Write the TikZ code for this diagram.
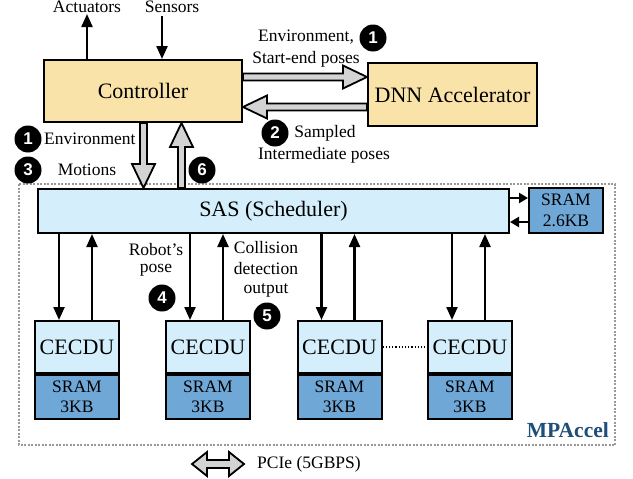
\documentclass[tikz,border=0pt]{standalone}
\usepackage{fontspec}
\setmainfont{Liberation Serif}
\newfontfamily\badgefont{Liberation Sans}
\usetikzlibrary{arrows.meta,calc}

\definecolor{ctrlfill}{HTML}{F9E3A9}
\definecolor{unitfill}{HTML}{D4EEFB}
\definecolor{sramfill}{HTML}{6FA7D7}
\definecolor{fatfill}{HTML}{D3D3D3}
\definecolor{mpblue}{HTML}{1F4E79}
\definecolor{framegray}{HTML}{999999}

\newcommand\bigtxt{\fontsize{22}{24}\selectfont}
\newcommand\smtxt{\fontsize{17.5}{20.5}\selectfont}

\tikzset{
  x=1pt, y=-1pt,
  box/.style={draw, line width=2pt, inner sep=0pt, align=center},
  ctrlbox/.style={box, fill=ctrlfill, font=\bigtxt},
  unitbox/.style={box, fill=unitfill, font=\bigtxt},
  srambox/.style={box, fill=sramfill, font=\smtxt},
  lbl/.style={inner sep=0pt, align=center, font=\smtxt},
  badge/.style={circle, fill=black, text=white, inner sep=0pt,
    minimum size=27pt, font=\badgefont\bfseries\fontsize{17}{17}\selectfont},
  arr/.style={line width=2.3pt, -{Triangle[length=13pt,width=11pt]}},
  sarr/.style={line width=2.3pt, -{Triangle[length=9pt,width=10pt]}},
  fat/.style={draw, fill=fatfill, line width=1.8pt, line join=miter},
}

% hollow block arrow from #1 (tail) to #2 (tip)
\newcommand\fatarrow[2]{%
  \path #1 coordinate (fa-t) #2 coordinate (fa-h);
  \path ($(fa-h)!24pt!(fa-t)$) coordinate (fa-b);
  \draw[fat] ($(fa-t)!3.5pt!90:(fa-h)$) -- ($(fa-b)!3.5pt!-90:(fa-t)$)
    -- ($(fa-b)!11.5pt!-90:(fa-t)$) -- (fa-h)
    -- ($(fa-b)!11.5pt!90:(fa-t)$) -- ($(fa-b)!3.5pt!90:(fa-t)$)
    -- ($(fa-t)!3.5pt!-90:(fa-h)$) -- cycle;
}

\begin{document}
\begin{tikzpicture}
\useasboundingbox (0,0) rectangle (633,479);

% accelerator frame
\draw[framegray, line width=2pt, dash pattern=on 2pt off 1.5pt]
  (19,184) rectangle (615,445);
\node[anchor=east, inner sep=0pt, text=mpblue,
  font=\bfseries\fontsize{21.5}{24}\selectfont] (mp) at (609,430) {MPAccel};

% host side
\node[ctrlbox, minimum width=198pt, minimum height=62pt] (ctrl) at (143,91) {Controller};
\node[ctrlbox, minimum width=169pt, minimum height=63pt] (dnn) at (452.5,94.5) {DNN Accelerator};

\node[lbl] (act) at (87,7) {Actuators};
\node[lbl] (sens) at (172,7) {Sensors};
\coordinate (actout) at (87,14);
\coordinate (sensin) at (162,16);
\draw[arr] (actout |- ctrl.north) -- (actout);
\draw[arr] (sensin) -- (sensin |- ctrl.north);

% controller <-> DNN accelerator
\coordinate (fwd) at (0,77);
\coordinate (bwd) at (0,107);
\fatarrow{(ctrl.east |- fwd)}{(dnn.west |- fwd)}
\fatarrow{(dnn.west |- bwd)}{(ctrl.east |- bwd)}

\node[lbl] (envs) at (306,37) {Environment,};
\node[lbl] (sep) at (306,59) {Start-end poses};
\node[badge] (b1a) at (373,38) {1};
\node[badge] (b2) at (275,133) {2};
\node[lbl] (smp) at (325,133) {Sampled};
\node[lbl] (imp) at (324,155) {Intermediate poses};

% scheduler
\node[unitbox, minimum width=471pt, minimum height=44pt] (sas) at (273.5,211) {SAS (Scheduler)};
\node[srambox, minimum width=74pt, minimum height=45pt] (sram) at (566,210.5) {SRAM\\2.6KB};
\coordinate (wr) at (0,198);
\coordinate (rd) at (0,222);
\draw[sarr] (sas.east |- wr) -- (sram.west |- wr);
\draw[sarr] (sram.west |- rd) -- (sas.east |- rd);

% controller <-> scheduler
\coordinate (down) at (143.5,0);
\coordinate (up) at (181.5,0);
\fatarrow{(down |- ctrl.south)}{(down |- sas.north)}
\fatarrow{(up |- sas.north)}{(up |- ctrl.south)}

\node[badge] (b1b) at (28,139) {1};
\node[lbl, anchor=west] (env) at (44,139) {Environment};
\node[badge] (b3) at (28,170) {3};
\node[lbl] (mot) at (87,170) {Motions};
\node[badge] (b6) at (202,170) {6};

% collision detection units
\foreach \i/\cx in {1/77,2/208,3/339.5,4/470}{
  \node[unitbox, minimum width=84pt, minimum height=52pt] (c\i) at (\cx,347) {CECDU};
  \node[srambox, minimum width=84pt, minimum height=44pt, anchor=north] (m\i) at (c\i.south) {SRAM\\3KB};
  \coordinate (d\i) at ([xshift=-18pt]c\i.north);
  \coordinate (u\i) at ([xshift=15pt]c\i.north);
  \draw[arr] (d\i |- sas.south) -- (d\i);
  \draw[arr] (u\i) -- (u\i |- sas.south);
}
\draw[line width=1.2pt, dotted] (c3.east) -- (c4.west);

\node[lbl] (rp1) at (156,250) {Robot's};
\node[lbl] (rp2) at (156,270) {pose};
\node[badge] (b4) at (162,298) {4};
\node[lbl] (cd1) at (266,248) {Collision};
\node[lbl] (cd2) at (266,269) {detection};
\node[lbl] (cd3) at (266,290) {output};
\node[badge] (b5) at (267,316) {5};

% host link
\node[lbl, anchor=west] (pcie) at (257,464) {PCIe (5GBPS)};
\coordinate (pc) at (218,464);
\draw[fat] ([xshift=-26pt]pc) -- ([xshift=-11pt,yshift=12pt]pc) -- ([xshift=-11pt,yshift=4pt]pc)
  -- ([xshift=11pt,yshift=4pt]pc) -- ([xshift=11pt,yshift=12pt]pc) -- ([xshift=26pt]pc)
  -- ([xshift=11pt,yshift=-12pt]pc) -- ([xshift=11pt,yshift=-4pt]pc)
  -- ([xshift=-11pt,yshift=-4pt]pc) -- ([xshift=-11pt,yshift=-12pt]pc) -- cycle;
\end{tikzpicture}
\end{document}
